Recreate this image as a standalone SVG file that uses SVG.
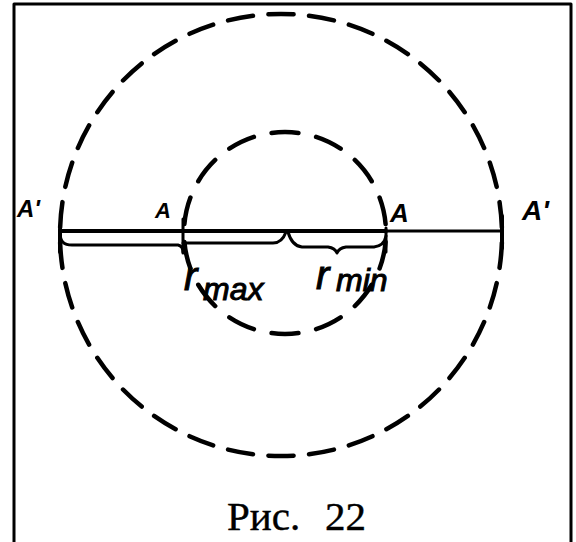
<svg xmlns="http://www.w3.org/2000/svg" width="576" height="542" viewBox="0 0 576 542">
<style>
.ln{fill:none;stroke:#000;stroke-linecap:round;stroke-linejoin:round}
.dash{fill:none;stroke:#000;stroke-width:4.5;stroke-linecap:round}
.lab{font-family:"Liberation Sans",Arial,sans-serif;font-style:italic;font-weight:bold;fill:#000}
.r{font-family:"Liberation Sans",Arial,sans-serif;font-style:italic;fill:#000;stroke:#000;stroke-width:1}
.cap{font-family:"Liberation Serif","Times New Roman",serif;fill:#000;stroke:#000;stroke-width:0.4}
</style>
<rect width="576" height="542" fill="#fff"/>
<path id="frame" class="ln" d="M14,546 V4 H571 V546" stroke-width="3" stroke-linecap="butt"/>
<g id="circles">
<circle id="outer" class="dash" cx="281" cy="235" r="221" pathLength="34" stroke-dasharray="0.62 0.38" stroke-dashoffset="0.81"/>
<circle id="inner" class="dash" cx="285" cy="233" r="101" pathLength="14" stroke-dasharray="0.6 0.4" stroke-dashoffset="0.8"/>
</g>
<g id="segments">
<path class="ln" d="M60,231 H386" stroke-width="4"/>
<path class="ln" d="M386,231 H502" stroke-width="3"/>
<path class="ln" d="M60,229 V252" stroke-width="4"/>
<path class="ln" d="M183,219 V253" stroke-width="3"/>
<path class="ln" d="M386,228 V252" stroke-width="3"/>
<path class="ln" d="M502,216 V248" stroke-width="4"/>
<path class="ln" d="M60,232 C60,242 64,245 72,245 L178,245 Q183,246 183,252" stroke-width="3"/>
<path class="ln" d="M183,243 H273 Q282,243 286,232" stroke-width="3"/>
<path class="ln" d="M288,232 Q292,246 302,247 H328 Q335,248 337,253 Q339,248 346,247 H374 Q384,246 386,236" stroke-width="3"/>
</g>
<g id="labels">
<text class="lab" x="17" y="217" font-size="24">A'</text>
<text class="lab" x="155" y="218" font-size="22">A</text>
<text class="lab" x="390" y="222" font-size="26">A</text>
<text class="lab" x="522" y="220" font-size="28">A'</text>
<text class="r" x="184" y="290" font-size="40">r<tspan x="203" y="300" font-size="32">max</tspan></text>
<text class="r" x="316" y="289" font-size="40">r<tspan x="336" y="291" font-size="32">min</tspan></text>
</g>
<text id="caption" class="cap" x="227" y="530" font-size="41">Рис.<tspan x="325">22</tspan></text>
</svg>
